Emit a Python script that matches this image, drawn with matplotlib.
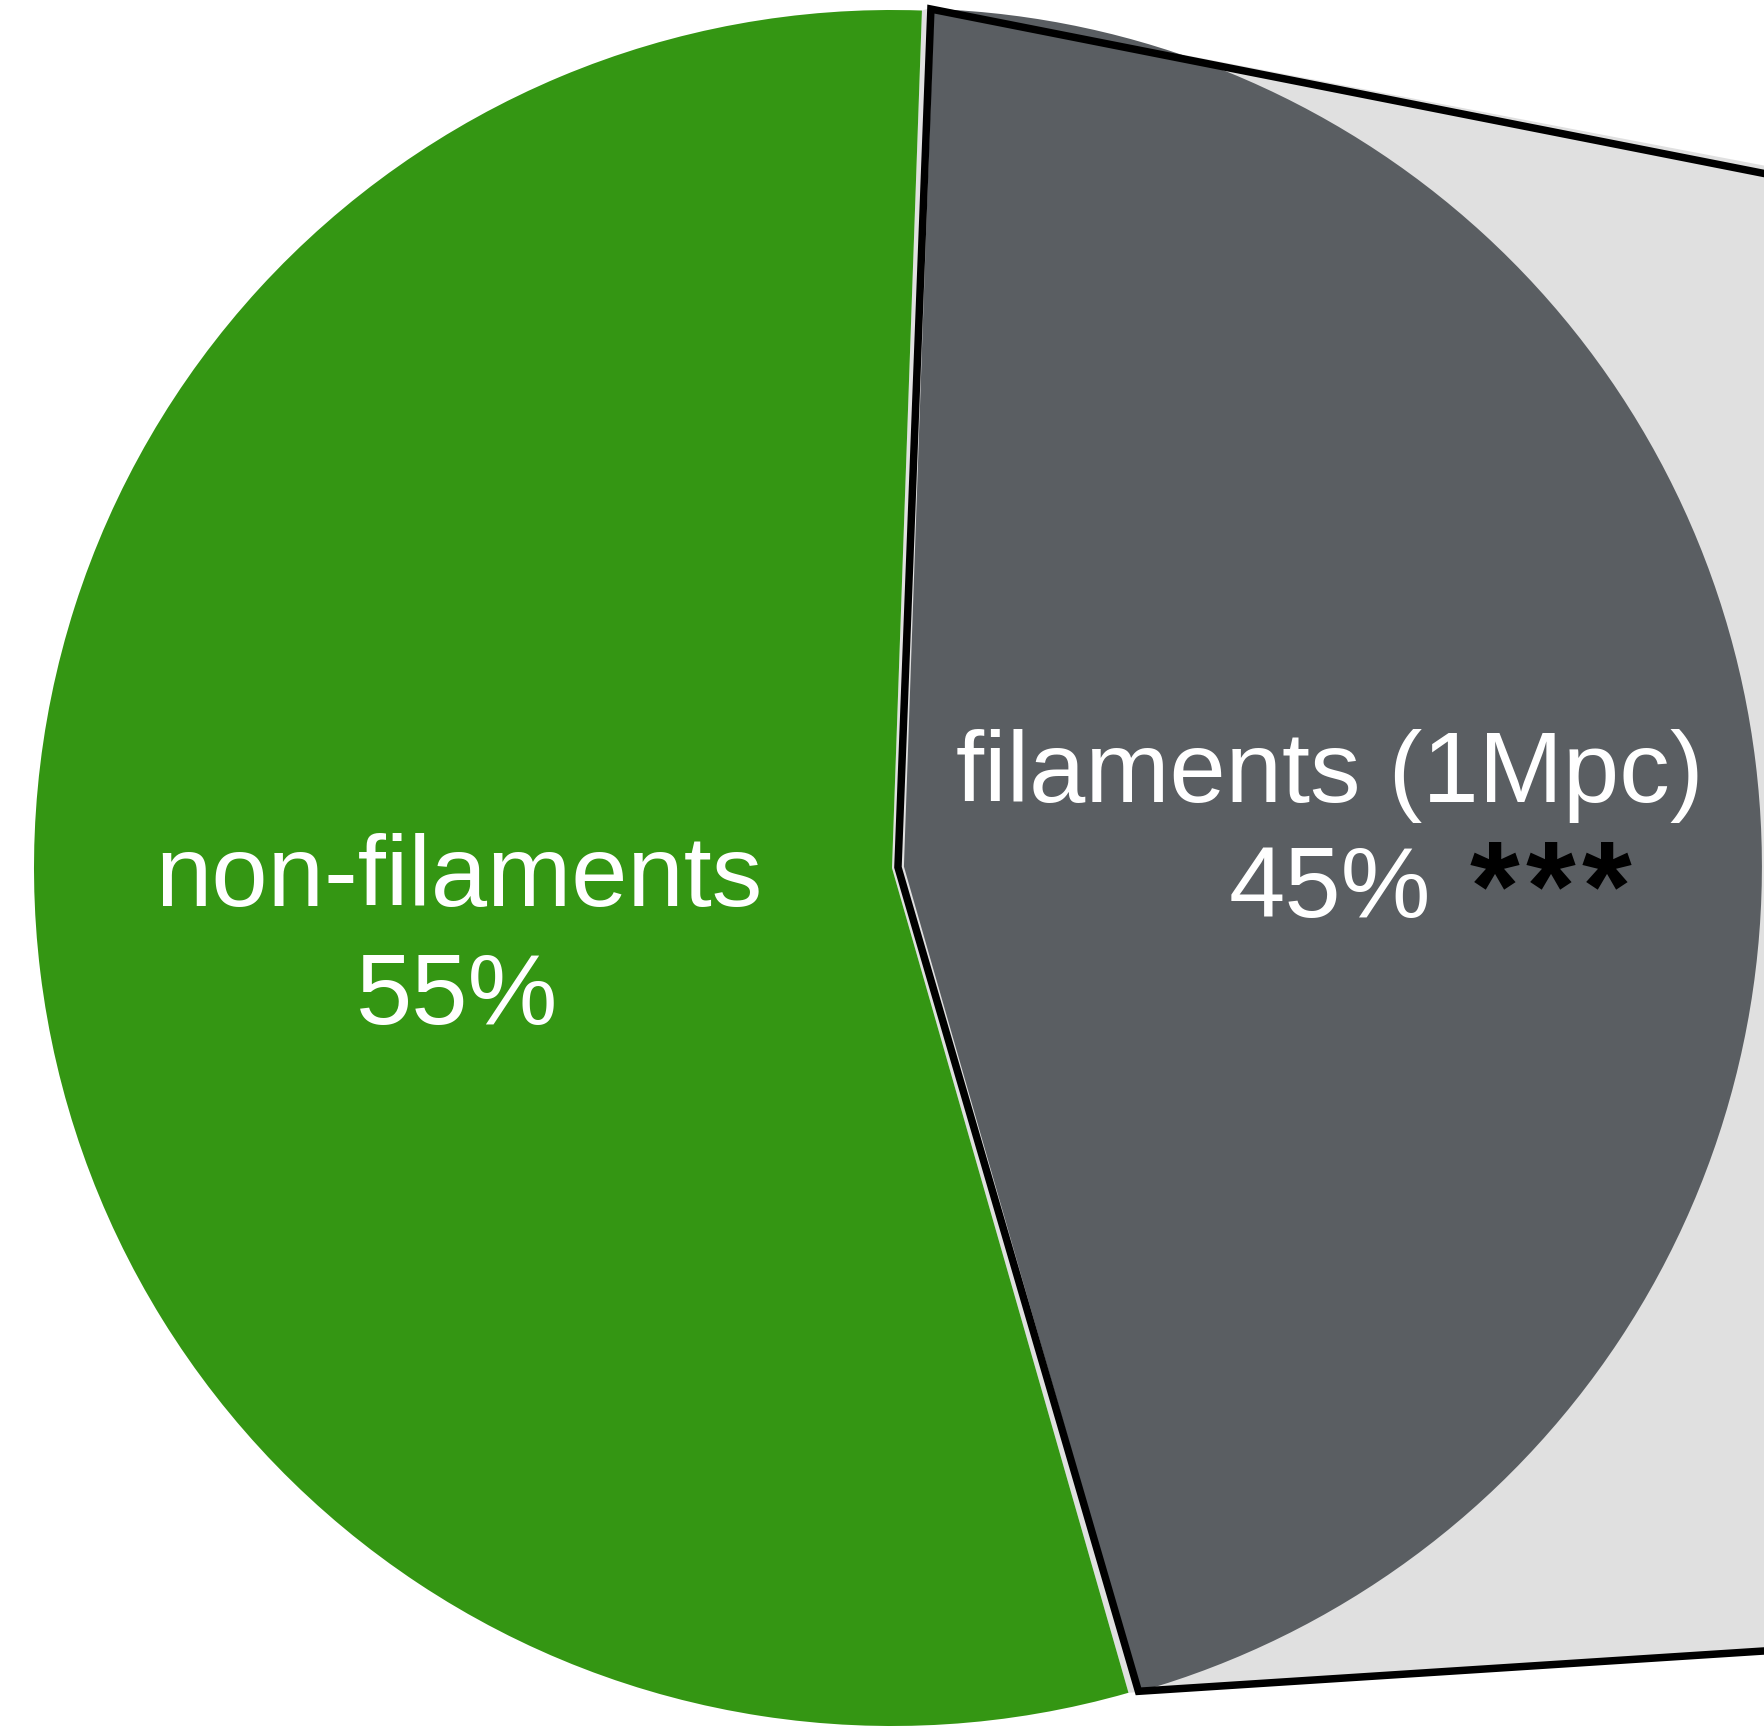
import math
import matplotlib
matplotlib.use('Agg')
import matplotlib.pyplot as plt
from matplotlib.patches import Polygon

# shares of the sample (percent)
labels = ['filaments (1Mpc)', 'non-filaments']
shares = [45, 55]
stars = '***'

col = ['#5a5e62', '#349613']
grey = '#e0e0e0'

W, H = 1764, 1730
fig = plt.figure(figsize=(W / 200, H / 200), dpi=200)
ax = fig.add_axes([0, 0, 1, 1])

cx, cy = 892, H - 868
r = 858
wedges, _ = ax.pie(shares, colors=col, startangle=-74, radius=r, center=(cx, cy),
                   explode=[12, 0], wedgeprops=dict(linewidth=0, zorder=1))
ax.set_xlim(0, W)
ax.set_ylim(0, H)
ax.set_aspect('equal')
ax.axis('off')


def corner(w, ang):
    x0, y0 = w.center
    return (x0 + w.r * math.cos(math.radians(ang)), y0 + w.r * math.sin(math.radians(ang)))


fil, non = wedges
f_top = corner(fil, fil.theta2)
f_bot = corner(fil, fil.theta1)
n_top = corner(non, non.theta1)
n_bot = corner(non, non.theta2)
apex = ((fil.center[0] + non.center[0]) / 2, (fil.center[1] + non.center[1]) / 2)

# bar of the breakdown sits off to the right
bar_top = (2400, H - 299)
bar_bot = (2400, H - 1610)

bg = Polygon([non.center, n_top, (f_top[0], f_top[1] + 2), (bar_top[0], bar_top[1] + 12),
              bar_bot, n_bot], closed=True, facecolor=grey, edgecolor='none', zorder=0.5)
ax.add_patch(bg)

mid_top = ((f_top[0] + n_top[0]) / 2 + 3, f_top[1])
mid_bot = ((f_bot[0] + n_bot[0]) / 2 + 4, f_bot[1])
xs = [bar_top[0], mid_top[0], apex[0], mid_bot[0], bar_bot[0]]
ys = [bar_top[1], mid_top[1], apex[1], mid_bot[1], bar_bot[1]]
ax.plot(xs, ys, color='black', lw=2.7, solid_joinstyle='miter', zorder=2)

fs = 36.4
fam = ['Liberation Sans', 'DejaVu Sans']
ax.text(1330, H - 802, labels[0], color='white', ha='center', va='baseline', fontsize=fs, family=fam, zorder=3)
ax.text(1330, H - 917, f'{shares[0]}%', color='white', ha='center', va='baseline', fontsize=fs, family=fam, zorder=3)
ax.text(459, H - 906, labels[1], color='white', ha='center', va='baseline', fontsize=fs, family=fam, zorder=3)
ax.text(457, H - 1024, f'{shares[1]}%', color='white', ha='center', va='baseline', fontsize=fs, family=fam, zorder=3)

# significance marker, letter-spaced
for i, ch in enumerate(stars):
    ax.text(1494 + 56 * i, H - 929, ch, color='black', ha='center', va='baseline',
            fontsize=46, fontweight='bold', family=fam, zorder=3)

fig.savefig('out.png', dpi=200)
